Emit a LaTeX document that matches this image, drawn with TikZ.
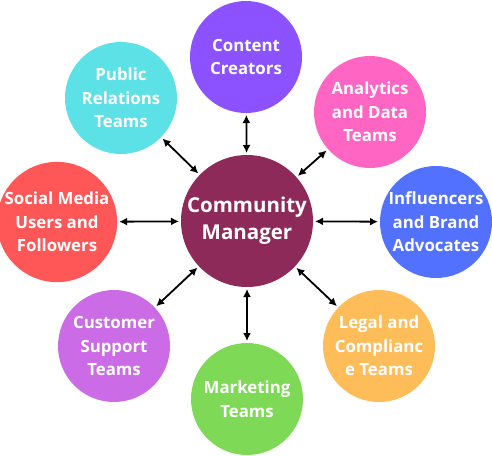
\documentclass[tikz,border=0pt]{standalone}
\usepackage{fontspec}
\setmainfont{Open Sans}
\usepackage{xcolor}
\usepackage{tikz}
\usetikzlibrary{positioning,shapes,arrows.meta,calc}

\definecolor{hubcol}{HTML}{8E2A5A}
\definecolor{cccol}{HTML}{8C52FF}
\definecolor{prcol}{HTML}{5CE1E6}
\definecolor{adcol}{HTML}{FF66C4}
\definecolor{smcol}{HTML}{FF5757}
\definecolor{ibcol}{HTML}{5271FF}
\definecolor{cscol}{HTML}{CB6CE6}
\definecolor{mtcol}{HTML}{7ED957}
\definecolor{lccol}{HTML}{FFBD59}

\begin{document}
\begin{tikzpicture}[x=1pt,y=-1pt,
    hub/.style={circle, fill=hubcol, text=white, minimum size=132pt, inner sep=0pt, outer sep=0pt, align=center,
        font=\bfseries\fontsize{20.5}{27}\selectfont},
    team/.style={circle, minimum size=112pt, inner sep=0pt, outer sep=0pt, text=white, align=center,
        font=\bfseries\fontsize{16.8}{23.5}\selectfont},
    link/.style={{Latex[length=8pt,width=8pt]}-{Latex[length=8pt,width=8pt]}, line width=1.8pt, shorten <=2pt, shorten >=2pt}]
    \useasboundingbox (0,0) rectangle (492,455);

    % centre
    \node[hub] (cm) at (247,221) {Community\\Manager};

    % teams round the centre
    \node[team, fill=cccol] (cc) at (246,57) {Content\\Creators};
    \node[team, fill=prcol] (pr) at (121,98) {Public\\Relations\\Teams};
    \node[team, fill=adcol] (ad) at (370,112) {Analytics\\and Data\\Teams};
    \node[team, fill=smcol] (sm) at (57,222) {Social Media\\Users and\\Followers};
    \node[team, fill=ibcol] (ib) at (436,222) {Influencers\\and Brand\\Advocates};
    \node[team, fill=cscol] (cs) at (114,346) {Customer\\Support\\Teams};
    \node[team, fill=mtcol] (mt) at (247,399) {Marketing\\Teams};
    \node[team, fill=lccol] (lc) at (379,346) {Legal and\\Complianc\\e Teams};

    % two-way links
    \foreach \t in {cc,pr,ad,sm,ib,cs,mt,lc}
        \draw[link] (cm) -- (\t);
\end{tikzpicture}
\end{document}
